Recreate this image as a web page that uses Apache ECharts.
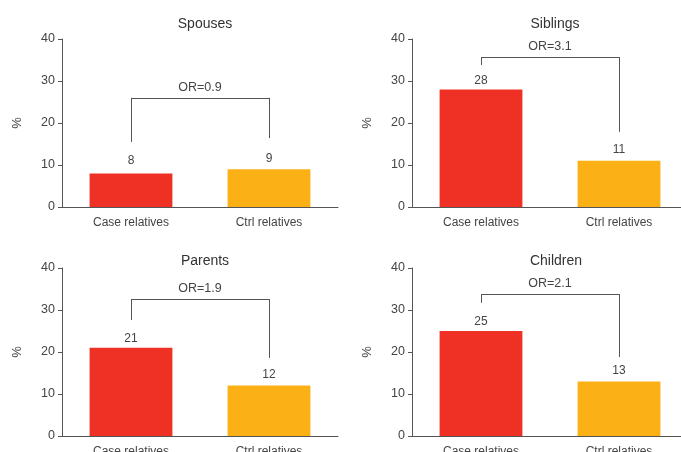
<!DOCTYPE html>
<html>
<head>
<meta charset="utf-8">
<script src="https://cdn.jsdelivr.net/npm/echarts@6/dist/echarts.min.js"></script>
<style>
  html, body { margin: 0; padding: 0; background: #fff; }
  #chart { width: 681px; height: 452px; }
</style>
</head>
<body>
<div id="chart"></div>
<script>
// Share of relatives affected, case vs control families, by relationship
const categories = ['Case relatives', 'Ctrl relatives'];
const panelTitles = ['Spouses', 'Siblings', 'Parents', 'Children'];
const caseValues = [8, 28, 21, 25];
const ctrlValues = [9, 11, 12, 13];
const oddsRatios = ['0.9', '3.1', '1.9', '2.1'];
// Bracket levels (in % units): left foot, bridge, right foot
const bracketLeft = [15.5, 33.8, 27.6, 31.7];
const bracketTop = [26, 35.7, 32.6, 33.8];
const bracketRight = [16.4, 17.9, 18.6, 18.8];
const yTicks = [0, 10, 20, 30, 40];
const barColors = ['#ee3124', '#fbb116'];

const textColor = '#444';
const lineColor = '#555';
const font = 'Liberation Sans, Arial, sans-serif';

// layout of the 2x2 panels
const panels = [
  { left: 62, top: 39, cx: 200, ty: 12 },
  { left: 412, top: 39, cx: 550, ty: 12 },
  { left: 62, top: 268, cx: 200, ty: 249 },
  { left: 412, top: 268, cx: 551, ty: 249 }
];

const option = {
  animation: false,
  textStyle: { fontFamily: font },
  title: [], grid: [], xAxis: [], yAxis: [], series: []
};

panels.forEach((p, i) => {
  option.title.push({
    text: panelTitles[i], left: p.cx, top: p.ty, textAlign: 'center',
    textStyle: { fontSize: 14, fontWeight: 'normal', color: '#333', fontFamily: font }
  });
  option.grid.push({
    left: p.left, top: p.top, width: 276, height: 168,
    outerBoundsMode: 'none', containLabel: false
  });
  option.xAxis.push({
    type: 'category', gridIndex: i, data: categories,
    axisLine: { lineStyle: { color: lineColor, width: 1 } },
    axisTick: { show: false },
    axisLabel: { color: textColor, fontSize: 12, margin: 10, fontFamily: font }
  });
  option.yAxis.push({
    type: 'value', gridIndex: i, min: yTicks[0], max: yTicks[yTicks.length - 1], interval: 10,
    name: '%', nameLocation: 'middle', nameGap: 38, nameRotate: 90,
    nameTextStyle: { color: textColor, fontSize: 13, fontFamily: font },
    axisLine: { show: true, lineStyle: { color: lineColor, width: 1 } },
    axisTick: { show: true, length: 4, lineStyle: { color: lineColor } },
    splitLine: { show: false },
    axisLabel: { color: textColor, fontSize: 12.5, margin: 7, fontFamily: font }
  });

  const segLabelOff = { show: false };
  const orLabel = {
    show: true, position: 'middle', formatter: 'OR=' + oddsRatios[i],
    color: textColor, fontSize: 12.5, distance: 4, fontFamily: font
  };

  option.series.push({
    type: 'bar', xAxisIndex: i, yAxisIndex: i, barWidth: '60%',
    data: [
      { value: caseValues[i], itemStyle: { color: barColors[0] },
        label: { distance: caseValues[i] > bracketLeft[i] - 7 ? 3 : 7 } },
      { value: ctrlValues[i], itemStyle: { color: barColors[1] } }
    ],
    label: { show: true, position: 'top', color: textColor, fontSize: 12, fontFamily: font },
    markLine: {
      silent: true, symbol: ['none', 'none'],
      lineStyle: { color: lineColor, width: 1, type: 'solid' },
      label: segLabelOff,
      data: [
        [{ coord: [0, bracketLeft[i]], label: segLabelOff }, { coord: [0, bracketTop[i]] }],
        [{ coord: [0, bracketTop[i]], label: orLabel }, { coord: [1, bracketTop[i]], label: orLabel }],
        [{ coord: [1, bracketTop[i]], label: segLabelOff }, { coord: [1, bracketRight[i]] }]
      ]
    }
  });
});

const chart = echarts.init(document.getElementById('chart'), null, { renderer: 'canvas' });
chart.setOption(option);
</script>
</body>
</html>
